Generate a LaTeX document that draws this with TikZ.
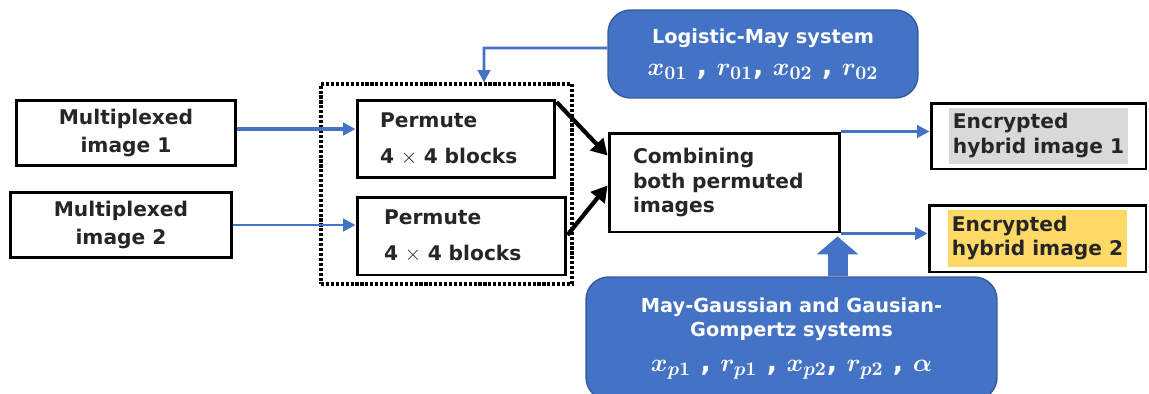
\documentclass[tikz,border=0pt]{standalone}
\usepackage{fontspec}
\setmainfont{DejaVu Sans}
\usetikzlibrary{arrows.meta,positioning}

\definecolor{sysblue}{HTML}{4472C4}
\definecolor{txtgray}{HTML}{262626}
\definecolor{hlgray}{HTML}{D9D9D9}
\definecolor{hlyellow}{HTML}{FFD966}

\newcommand{\bigmath}{\fontsize{15.5}{18}\selectfont}

\tikzset{
  blk/.style={draw=black, line width=1.7pt, fill=white, text=txtgray,
    font=\bfseries\fontsize{11.5}{14}\selectfont},
  sysbox/.style={draw=sysblue!80!black, line width=0.8pt, fill=sysblue,
    rounded corners=0.45cm, text=white, align=center,
    font=\bfseries\boldmath\fontsize{11}{13.6}\selectfont},
  bluearrow/.style={draw=sysblue, line width=1.6pt, -{Triangle[length=7pt,width=7pt]}},
  blackarrow/.style={draw=black, line width=2.4pt, -{Triangle[length=9pt,width=10pt]}},
}

\begin{document}
\begin{tikzpicture}[x=0.02cm, y=-0.02cm]
  \useasboundingbox (0,0) rectangle (1149,393);

  % inputs
  \node[blk, minimum width=4.4cm, minimum height=1.3cm, align=center] (mux1) at (126,133)
    {Multiplexed\\[1.5pt]image 1};
  \node[blk, minimum width=4.42cm, minimum height=1.3cm, align=center] (mux2) at (121,225)
    {Multiplexed\\[1.5pt]image 2};

  % permutation stage
  \node[draw, densely dotted, line width=1.8pt, minimum width=5.02cm, minimum height=4cm] (grp) at (446.5,184) {};
  \node[blk, minimum width=3.96cm, minimum height=1.54cm, text width=3.04cm, inner xsep=0.46cm, align=left] (perm1) at (456,139)
    {Permute\\[7pt]4 $\times$ 4 blocks};
  \node[blk, minimum width=4.18cm, minimum height=1.56cm, text width=3.1cm, inner xsep=0.54cm, align=left] (perm2) at (461.5,236)
    {Permute\\[7pt]4 $\times$ 4 blocks};

  \node[blk, minimum width=4.62cm, minimum height=1.98cm, text width=3.66cm, inner xsep=0.48cm, align=left] (comb) at (724.5,182.5)
    {Combining\\both permuted\\images};

  % outputs
  \node[blk, minimum width=4.3cm, minimum height=1.32cm, inner sep=0pt] (enc1) at (1038.5,136)
    {\setlength{\fboxsep}{2pt}\colorbox{hlgray}{\begin{tabular}{@{}l@{}}Encrypted\\hybrid image 1\end{tabular}}};
  \node[blk, minimum width=4.34cm, minimum height=1.34cm, inner sep=0pt] (enc2) at (1037.5,238.5)
    {\setlength{\fboxsep}{2pt}\colorbox{hlyellow}{\begin{tabular}{@{}l@{}}Encrypted\\hybrid image 2\end{tabular}}};

  % chaotic systems
  \node[sysbox, minimum width=6.2cm, minimum height=1.76cm] (logi) at (763,54)
    {Logistic-May system\\[5pt]{\bigmath$x_{01}$ , $r_{01}$, $x_{02}$ , $r_{02}$}};
  \node[sysbox, minimum width=8.22cm, minimum height=2.46cm] (mayg) at (791.5,338.5)
    {May-Gaussian and Gausian-\\Gompertz systems\\[6pt]{\bigmath$x_{p1}$ , $r_{p1}$ , $x_{p2}$, $r_{p2}$ , $\alpha$}};

  \coordinate (drop) at (484,48);
  \draw[bluearrow] ([yshift=0.12cm]logi.west) -- (drop) -- (drop |- grp.north);

  \draw[bluearrow, line width=2.2pt] ([yshift=0.08cm]mux1.east) -- ([yshift=0.08cm]mux1.east -| perm1.west);
  \draw[bluearrow] (mux2.east) -- (mux2.east -| perm2.west);

  \draw[blackarrow] ([yshift=-0.06cm]perm1.north east) -- ([yshift=0.54cm]comb.west);
  \draw[blackarrow] ([yshift=0.02cm]perm2.east) -- ([yshift=-0.06cm]comb.west);

  \draw[bluearrow] (comb.north east) -- (comb.north east -| enc1.west);
  \draw[bluearrow] (comb.south east) -- (comb.south east -| enc2.west);

  \draw[draw=sysblue, line width=0.4cm, -{Triangle[length=0.36cm,width=0.82cm]}]
    ([xshift=0.92cm]mayg.north) -- ([xshift=0.92cm, yshift=-0.06cm]mayg.north |- comb.south);
\end{tikzpicture}
\end{document}
